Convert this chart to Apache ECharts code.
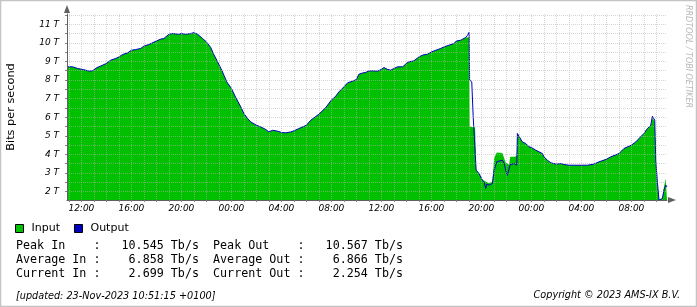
<!DOCTYPE html>
<html><head><meta charset="utf-8">
<script src="https://cdn.jsdelivr.net/npm/echarts@6/dist/echarts.min.js"></script>
<style>html,body{margin:0;padding:0;background:#fff}#c{width:697px;height:307px}</style>
</head><body><div id="c"></div>
<script>
// hours since 21-Nov-2023 00:00 (+0100)
const times = [10.85,11.3,11.7,12.0,12.35,12.6,12.9,13.0,13.25,13.5,14.0,14.35,14.75,15.0,15.3,15.7,16.0,16.35,16.75,17.0,17.4,18.0,18.35,18.6,19.0,19.3,19.8,20.0,20.35,20.75,21.0,21.3,21.7,22.0,22.35,22.55,22.83,23.23,23.63,24.0,24.35,24.75,25.0,25.3,25.55,26.0,26.35,26.75,27.0,27.3,27.7,28.0,28.35,28.75,29.0,29.4,30.0,30.35,31.0,31.55,32.0,32.35,32.6,33.0,33.3,33.7,34.0,34.2,34.5,34.75,35.0,35.4,35.7,36.0,36.2,36.5,36.75,37.0,37.3,37.7,38.0,38.2,38.6,39.0,39.3,39.7,40.0,40.35,40.75,41.0,41.4,41.8,42.0,42.35,42.75,42.9,43.02,43.06,43.23,43.34,43.5,43.58,43.82,44.08,44.22,44.35,44.43,44.62,44.88,45.02,45.23,45.34,45.68,45.82,45.95,46.08,46.22,46.3,46.35,46.62,46.83,46.88,47.01,47.28,47.55,47.81,48.0,48.35,48.61,48.88,49.01,49.28,49.55,50.0,50.35,50.61,51.01,51.41,52.0,52.48,53.01,53.41,54.0,54.35,55.01,55.41,56.0,56.35,56.61,57.01,57.28,57.55,57.68,57.81,57.87,57.95,58.08,58.21,58.35,58.48,58.61,58.75,58.85];
const inputTbps = [8.71,8.71,8.62,8.58,8.53,8.48,8.50,8.60,8.67,8.74,8.89,9.07,9.16,9.24,9.37,9.46,9.60,9.64,9.70,9.82,9.91,10.10,10.20,10.23,10.46,10.50,10.46,10.50,10.46,10.50,10.545,10.46,10.23,10.05,9.75,9.43,9.07,8.53,7.90,7.55,7.06,6.56,6.20,5.93,5.75,5.57,5.48,5.34,5.21,5.30,5.25,5.18,5.16,5.21,5.27,5.39,5.57,5.84,6.16,6.52,6.92,7.13,7.36,7.63,7.85,7.94,8.03,8.31,8.38,8.41,8.49,8.49,8.48,8.57,8.67,8.57,8.53,8.62,8.71,8.71,8.89,8.98,9.03,9.24,9.34,9.39,9.51,9.60,9.70,9.78,9.87,9.96,10.10,10.14,10.29,10.36,10.30,5.50,5.48,5.46,5.45,3.20,2.95,2.65,2.60,2.55,2.55,2.45,2.55,3.80,4.10,4.12,4.08,4.05,3.55,3.51,3.45,3.87,3.90,3.87,3.91,5.13,5.03,4.67,4.59,4.41,4.37,4.23,4.14,4.05,3.87,3.69,3.55,3.48,3.51,3.46,3.42,3.42,3.42,3.42,3.48,3.60,3.74,3.87,4.05,4.32,4.50,4.67,4.86,5.13,5.39,5.57,5.95,5.98,5.80,3.69,2.52,1.55,1.55,1.63,2.26,2.71,2.70];
const outputTbps = [8.71,8.71,8.62,8.58,8.53,8.48,8.50,8.60,8.67,8.74,8.89,9.07,9.16,9.24,9.37,9.46,9.60,9.64,9.70,9.82,9.91,10.10,10.20,10.23,10.46,10.50,10.46,10.50,10.46,10.50,10.55,10.46,10.23,10.05,9.75,9.43,9.07,8.53,7.90,7.55,7.06,6.56,6.20,5.93,5.75,5.57,5.48,5.34,5.21,5.30,5.25,5.18,5.16,5.21,5.27,5.39,5.57,5.84,6.16,6.52,6.92,7.13,7.36,7.63,7.85,7.94,8.03,8.31,8.38,8.41,8.49,8.49,8.48,8.57,8.67,8.57,8.53,8.62,8.71,8.71,8.89,8.98,9.03,9.24,9.34,9.39,9.51,9.60,9.70,9.78,9.87,9.96,10.10,10.14,10.29,10.41,10.567,8.00,7.90,6.10,6.00,3.15,2.97,2.61,2.50,2.17,2.40,2.35,2.44,3.15,3.60,3.69,3.69,3.51,3.15,2.88,2.79,3.45,3.51,3.51,3.42,5.13,5.03,4.67,4.59,4.41,4.37,4.23,4.14,4.05,3.87,3.69,3.55,3.48,3.51,3.46,3.42,3.42,3.42,3.42,3.48,3.60,3.74,3.87,4.05,4.32,4.50,4.67,4.86,5.13,5.39,5.57,6.06,6.06,5.84,3.69,2.52,1.55,1.55,1.63,2.10,2.35,2.25];

const yGridValues = [2,2.5,3,3.5,4,4.5,5,5.5,6,6.5,7,7.5,8,8.5,9,9.5,10,10.5,11,11.5];
const yLabelValues = [2,3,4,5,6,7,8,9,10,11];
const xGridHours = [11,12,13,14,15,16,17,18,19,20,21,22,23,24,25,26,27,28,29,30,31,32,33,34,35,36,37,38,39,40,41,42,43,44,45,46,47,48,49,50,51,52,53,54,55,56,57,58];
const xLabelHours = [12,16,20,24,28,32,36,40,44,48,52,56];
const seriesNames = ['Input','Output'];
const statNames = ['Peak','Average','Current'];
const statIn = ['10.545','6.858','2.699'];
const statOut = ['10.567','6.866','2.254'];
const updatedText = '[updated: 23-Nov-2023 10:51:15 +0100]';
const copyrightText = 'Copyright \u00a9 2023 AMS-IX B.V.';
const watermarkText = 'RRDTOOL / TOBI OETIKER';

const GREEN = '#00c000', BLUE = '#0000c0';
const gridCol = 'rgba(180,180,180,0.55)';
const pad2 = n => (n < 10 ? '0' : '') + n;

const statLines = statNames.map((n, i) =>
  (n + ' In').padEnd(11) + ':' + statIn[i].padStart(9) + ' Tb/s  ' +
  (n + ' Out').padEnd(12) + ':' + statOut[i].padStart(9) + ' Tb/s');

const chart = echarts.init(document.getElementById('c'), null, {renderer: 'canvas'});
chart.setOption({
  animation: false,
  backgroundColor: '#ffffff',
  grid: {left: 67, top: 14, width: 600, height: 186, containLabel: false, outerBoundsMode: 'none'},
  legend: {
    left: 10, top: 218, itemWidth: 8, itemHeight: 8, itemGap: 14, icon: 'rect', selectedMode: false,
    textStyle: {fontFamily: 'DejaVu Sans', fontSize: 11, color: '#000', padding: [0, 0, 0, 3]},
    data: [
      {name: seriesNames[0], itemStyle: {color: GREEN, borderColor: '#000', borderWidth: 1}},
      {name: seriesNames[1], itemStyle: {color: BLUE, borderColor: '#000', borderWidth: 1}}
    ]
  },
  xAxis: {
    type: 'value', min: 10.85, max: 58.85, z: 3,
    axisLine: {show: true, lineStyle: {color: '#606060', width: 1}, symbol: ['none', 'triangle'], symbolSize: [6, 8], symbolOffset: [0, 5]},
    axisTick: {show: true, customValues: xGridHours, length: 2, lineStyle: {color: '#808080'}},
    axisLabel: {customValues: xLabelHours, formatter: h => pad2(h % 24) + ':00', fontFamily: 'DejaVu Sans', fontStyle: 'italic', fontSize: 9, color: '#000', margin: 4},
    splitLine: {show: true, lineStyle: {color: gridCol, type: [1, 1], width: 1}}
  },
  yAxis: {
    type: 'value', min: 1.55, max: 11.55, z: 3,
    name: 'Bits per second', nameLocation: 'middle', nameRotate: 90, nameGap: 50,
    nameTextStyle: {fontFamily: 'DejaVu Sans', fontSize: 11.3, color: '#000'},
    axisLine: {show: true, lineStyle: {color: '#606060', width: 1}, symbol: ['none', 'triangle'], symbolSize: [6, 8], symbolOffset: [0, 5]},
    axisTick: {show: true, customValues: yGridValues, length: 2, lineStyle: {color: '#808080'}},
    axisLabel: {customValues: yLabelValues, formatter: v => v + ' T', fontFamily: 'DejaVu Sans', fontStyle: 'italic', fontSize: 9, color: '#000', margin: 8},
    splitLine: {show: true, lineStyle: {color: gridCol, type: [1, 1], width: 1}}
  },
  series: [
    {name: seriesNames[0], type: 'line', data: times.map((t, i) => [t, inputTbps[i]]), showSymbol: false, symbol: 'none',
     lineStyle: {width: 0}, itemStyle: {color: GREEN}, areaStyle: {color: GREEN, opacity: 1, origin: 'start'}, z: 1},
    {name: seriesNames[1], type: 'line', data: times.map((t, i) => [t, outputTbps[i]]), showSymbol: false, symbol: 'none',
     lineStyle: {width: 1, color: BLUE}, itemStyle: {color: BLUE}, z: 2}
  ],
  graphic: [
    {type: 'rect', shape: {x: 0.5, y: 0.5, width: 696, height: 306}, style: {fill: 'none', stroke: '#c4c4c4', lineWidth: 1.5}, silent: true},
    ...statLines.map((s, i) => ({type: 'text', x: 16, y: 246 + i * 14, style: {text: s, fontFamily: 'DejaVu Sans Mono', fontSize: 11.7, fill: '#000', verticalAlign: 'middle', align: 'left'}})),
    {type: 'text', x: 16, y: 296.5, style: {text: updatedText, fontFamily: 'DejaVu Sans', fontStyle: 'italic', fontSize: 9.7, fill: '#000', verticalAlign: 'middle', align: 'left'}},
    {type: 'text', x: 680, y: 295.5, style: {text: copyrightText, fontFamily: 'DejaVu Sans', fontStyle: 'italic', fontSize: 9.7, fill: '#000', verticalAlign: 'middle', align: 'right'}},
    {type: 'text', x: 688.5, y: 5, rotation: -Math.PI / 2, style: {text: watermarkText, fontFamily: 'DejaVu Sans', fontStyle: 'italic', fontSize: 8, fill: '#b8b8b8', verticalAlign: 'middle', align: 'left'}}
  ]
});
</script></body></html>
